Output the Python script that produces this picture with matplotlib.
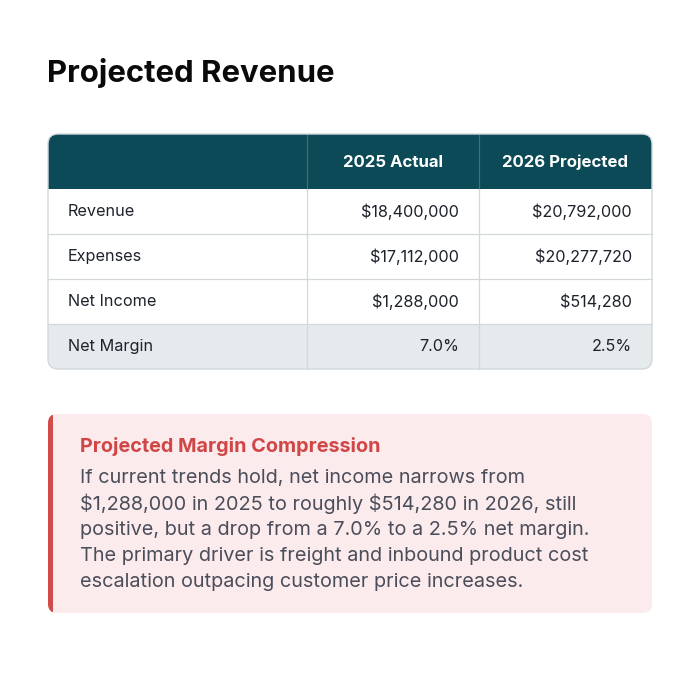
import matplotlib
matplotlib.use("Agg")
import matplotlib.pyplot as plt
from matplotlib.patches import FancyBboxPatch, Rectangle

plt.rcParams['font.family'] = ['Inter', 'DejaVu Sans']

title       = "Projected Revenue"
col_headers = ["", "2025 Actual", "2026 Projected"]
row_labels  = ["Revenue", "Expenses", "Net Income", "Net Margin"]
actual      = [18400000, 17112000, 1288000]
projected   = [20792000, 20277720, 514280]
margin      = [7.0, 2.5]

note_title = "Projected Margin Compression"
note_lines = ["If current trends hold, net income narrows from",
              "$1,288,000 in 2025 to roughly $514,280 in 2026, still",
              "positive, but a drop from a 7.0% to a 2.5% net margin.",
              "The primary driver is freight and inbound product cost",
              "escalation outpacing customer price increases."]

# layout in pixels
W = 700
tx0, tx1 = 48, 652
col_x    = [48, 307, 479, 652]
ty0      = 134
head_h   = 55
row_h    = 45
teal     = "#0B4A56"
grid_c   = "#D3D8DC"
txt_c    = "#1E222B"

fig = plt.figure(figsize=(7, 7), dpi=100)
ax  = fig.add_axes([0, 0, 1, 1])
ax.set_xlim(0, W)
ax.set_ylim(W, 0)
ax.axis('off')

ax.text(47, 73, title, fontsize=22.4, fontweight='bold', color='#0A0A0A', va='center', ha='left',
        parse_math=False)

# table
ty1  = ty0 + head_h + row_h * len(row_labels)
clip = FancyBboxPatch((tx0, ty0), tx1 - tx0, ty1 - ty0, boxstyle="round,pad=0,rounding_size=10",
                      facecolor='white', edgecolor='none', zorder=1)
ax.add_patch(clip)
hdr = Rectangle((tx0, ty0), tx1 - tx0, head_h, facecolor=teal, edgecolor='none', zorder=2)
ax.add_patch(hdr)
hdr.set_clip_path(clip)
mrow = Rectangle((tx0, ty0 + head_h + row_h * 3), tx1 - tx0, row_h, facecolor='#E5EAED',
                 edgecolor='none', zorder=2)
ax.add_patch(mrow)
mrow.set_clip_path(clip)

for i in range(1, len(row_labels)):
    y = ty0 + head_h + row_h * i
    ax.plot([tx0, tx1], [y, y], color=grid_c, lw=0.9, zorder=3)
for x in col_x[1:3]:
    ax.plot([x, x], [ty0, ty0 + head_h], color='#3E6E77', lw=0.9, zorder=3)
    ax.plot([x, x], [ty0 + head_h, ty1], color=grid_c, lw=0.9, zorder=3)

border = FancyBboxPatch((tx0, ty0), tx1 - tx0, ty1 - ty0, boxstyle="round,pad=0,rounding_size=10",
                        facecolor='none', edgecolor=grid_c, lw=1.0, zorder=4)
ax.add_patch(border)

for j, h in enumerate(col_headers):
    if h:
        ax.text((col_x[j] + col_x[j + 1]) / 2, ty0 + head_h / 2 + 1, h, color='white', fontsize=12.1,
                fontweight='bold', ha='center', va='center', zorder=5, parse_math=False)

cells = [[f"${a:,.0f}", f"${p:,.0f}"] for a, p in zip(actual, projected)]
cells.append([f"{m:.1f}%" for m in margin])
for i, lab in enumerate(row_labels):
    yc = ty0 + head_h + row_h * i + row_h / 2
    ax.text(68, yc, lab, color=txt_c, fontsize=11.7, ha='left', va='center', zorder=5, parse_math=False)
    for j, v in enumerate(cells[i]):
        ax.text(col_x[j + 2] - 20, yc, v, color=txt_c, fontsize=11.7, ha='right', va='center', zorder=5,
                parse_math=False)

# callout
cx0, cx1, cy0, cy1 = 48, 652, 414, 613
box = FancyBboxPatch((cx0, cy0), cx1 - cx0, cy1 - cy0, boxstyle="round,pad=0,rounding_size=9",
                     facecolor='#FCEBEC', edgecolor='none', zorder=1)
ax.add_patch(box)
bar = Rectangle((cx0, cy0), 4.5, cy1 - cy0, facecolor='#D14B4B', edgecolor='none', zorder=2)
ax.add_patch(bar)
bar.set_clip_path(box)

ax.text(80, 447, note_title, color='#D04646', fontsize=14.3, fontweight='bold', ha='left', va='center',
        zorder=5, parse_math=False)
for k, line in enumerate(note_lines):
    ax.text(80, 478 + 26 * k, line, color='#4A4D5A', fontsize=14.3, ha='left', va='center', zorder=5,
            parse_math=False)

fig.savefig("out.png", dpi=100, facecolor='white')
